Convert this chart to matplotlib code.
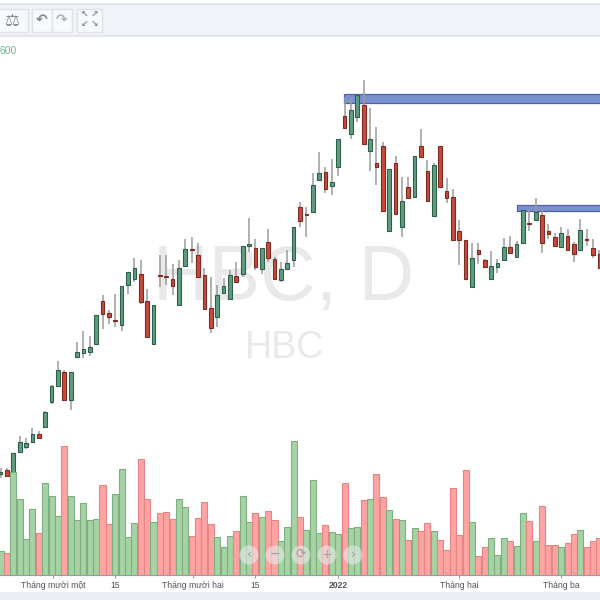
import numpy as np
import matplotlib
matplotlib.use('Agg')
import matplotlib.pyplot as plt
from matplotlib.patches import Rectangle, Circle

plt.rcParams['font.family'] = ['Liberation Sans', 'DejaVu Sans']

# price levels are read as chart rows, so the price axis runs top to bottom
body_top = [472, 470, 453, 442, 443, 434, 434, 412, 386, 370, 372, 372, 352, 349, 347, 315,
            301, 313, 320, 286, 272, 268, 274, 301, 305, 275, 276, 279, 268, 249, 249, 255,
            275, 308, 295, 286, 275, 276, 246, 244, 248, 248, 242, 259, 269, 263, 227, 207,
            214, 185, 173, 172, 182, 139, 116, 110, 95, 105, 139, 163, 146, 169, 163, 201,
            187, 156, 146, 171, 165, 146, 191, 197, 231, 240, 258, 250, 260, 266, 263, 247,
            247, 244, 210, 223, 212, 215, 231, 237, 233, 236, 244, 230, 239, 248, 254]
body_bottom = [474, 476, 473, 452, 447, 442, 438, 427, 402, 386, 400, 400, 357, 353, 352, 344,
               314, 317, 321, 325, 285, 279, 302, 337, 344, 276, 277, 286, 305, 266, 250, 277,
               309, 328, 317, 293, 299, 282, 274, 246, 267, 269, 258, 279, 280, 269, 260, 221,
               215, 212, 180, 189, 186, 167, 128, 134, 117, 144, 151, 167, 211, 231, 214, 227,
               198, 197, 157, 201, 216, 187, 198, 240, 240, 279, 287, 254, 267, 279, 267, 260,
               253, 257, 243, 224, 220, 243, 234, 246, 247, 250, 254, 250, 240, 255, 268]
high = [468, 468, 453, 436, 438, 428, 431, 411, 385, 361, 370, 372, 342, 331, 336, 315,
        295, 310, 294, 286, 272, 258, 260, 289, 305, 255, 255, 264, 260, 239, 237, 243,
        268, 277, 285, 278, 270, 262, 246, 218, 239, 248, 229, 257, 262, 250, 227, 202,
        207, 173, 152, 167, 159, 139, 97, 98, 95, 80, 108, 127, 142, 169, 156, 177,
        177, 156, 129, 160, 163, 146, 178, 189, 220, 240, 243, 243, 259, 251, 259, 238,
        236, 241, 210, 210, 198, 209, 224, 233, 227, 229, 242, 219, 229, 239, 250]
low = [478, 477, 473, 452, 449, 443, 439, 428, 404, 387, 400, 410, 358, 358, 356, 344,
       329, 324, 327, 331, 294, 282, 304, 337, 344, 287, 285, 295, 305, 266, 263, 277,
       309, 333, 327, 293, 299, 283, 277, 252, 270, 274, 262, 279, 282, 270, 267, 227,
       237, 212, 180, 193, 195, 176, 128, 139, 122, 144, 171, 185, 211, 231, 214, 237,
       198, 197, 157, 201, 216, 187, 203, 240, 265, 279, 287, 264, 267, 279, 273, 260,
       253, 257, 243, 231, 220, 253, 239, 246, 247, 250, 262, 250, 246, 258, 268]
volume = [24, 22, 103, 76, 36, 66, 42, 92, 79, 59, 129, 79, 55, 72, 55, 56,
          90, 51, 81, 106, 38, 52, 116, 76, 53, 62, 63, 56, 76, 68, 39, 57,
          73, 51, 38, 28, 39, 44, 79, 53, 62, 58, 64, 55, 34, 48, 134, 58,
          45, 95, 42, 50, 43, 41, 92, 47, 48, 75, 76, 101, 78, 65, 56, 55,
          35, 47, 44, 52, 44, 35, 25, 87, 40, 105, 53, 19, 28, 37, 20, 37,
          34, 29, 62, 54, 34, 69, 30, 30, 28, 32, 41, 45, 28, 34, 37]

# up and down, written out candle by candle
candle_up = [1, 0, 1, 1, 1, 1, 0, 1, 1, 1, 0, 1, 1, 1, 1, 1,
             0, 0, 0, 1, 1, 1, 0, 0, 1, 0, 0, 0, 1, 1, 0, 0,
             0, 0, 1, 1, 1, 0, 1, 1, 0, 1, 0, 0, 1, 1, 1, 0,
             0, 1, 1, 0, 1, 1, 0, 1, 1, 0, 1, 0, 0, 1, 0, 1,
             0, 1, 0, 0, 1, 0, 0, 0, 0, 0, 1, 0, 0, 1, 1, 1,
             0, 1, 1, 0, 1, 0, 0, 0, 1, 0, 0, 1, 0, 0, 0]
volume_up = [1, 0, 1, 1, 1, 1, 0, 1, 1, 1, 0, 1, 1, 1, 1, 1,
             0, 0, 1, 1, 1, 1, 0, 0, 1, 0, 0, 0, 1, 1, 0, 0,
             0, 0, 1, 1, 1, 0, 1, 1, 0, 1, 0, 0, 1, 1, 1, 0,
             1, 1, 1, 0, 1, 1, 0, 1, 1, 0, 1, 0, 0, 1, 0, 1,
             0, 1, 0, 0, 1, 0, 0, 0, 0, 0, 1, 0, 0, 1, 1, 1,
             0, 1, 1, 0, 1, 0, 0, 0, 1, 0, 0, 1, 0, 0, 0]

tick_pos = [8.2, 18, 30.2, 40, 53, 72, 88]
tick_labels = ['Tháng mười một', '15', 'Tháng mười hai', '15', '2022', 'Tháng hai', 'Tháng ba']
bands = [(53.9, 94, 103), (81, 204.5, 210.5)]

BAR_STEP = 6.37
idx = np.arange(len(volume))

fig = plt.figure(figsize=(6, 6), dpi=100)

# page chrome and watermark, in pixels
bg = fig.add_axes([0, 0, 1, 1], zorder=0)
bg.set_xlim(0, 600)
bg.set_ylim(600, 0)
bg.axis('off')
bg.add_patch(Rectangle((-5, 4), 610, 32, facecolor='#f0f3f8', edgecolor='#e0e2e6', linewidth=1.2))
bg.add_patch(Rectangle((0, 592), 600, 8, facecolor='#eceef3', edgecolor='none'))
for x0, x1 in [(-5, 28), (32, 52), (52, 72), (77, 102)]:
    bg.add_patch(Rectangle((x0, 8.5), x1 - x0, 23, facecolor='#f8f9fb', edgecolor='#e0e2e6', linewidth=1))
icon = '#85888e'
bg.text(12, 20.5, '\u2696', color=icon, fontsize=12, ha='center', va='center', family='DejaVu Sans')
bg.text(42, 20, '\u21b6', color=icon, fontsize=10, ha='center', va='center', family='DejaVu Sans', weight='bold')
bg.text(62, 20, '\u21b7', color='#aeb1b6', fontsize=10, ha='center', va='center', family='DejaVu Sans', weight='bold')
for dx, dy, arrow in [(-5, -5, '\u2196'), (5, -5, '\u2197'), (-5, 5, '\u2199'), (5, 5, '\u2198')]:
    bg.text(89.5 + dx, 20 + dy, arrow, color=icon, fontsize=6.5, ha='center', va='center',
            family='DejaVu Sans', weight='bold')
bg.text(0, 51, '600', color='#6fb896', fontsize=7.5, ha='left', va='center')
bg.text(284, 279, 'HBC, D', color='#e9e9ea', fontsize=55.5, ha='center', va='center')
bg.text(284, 348, 'HBC', color='#e9e9ea', fontsize=27, ha='center', va='center')

# chart area, 37 to 575 px down the page
ax = fig.add_axes([0, 25 / 600, 1, 538 / 600], zorder=1)
ax.patch.set_alpha(0)
ax.set_xlim(-0.6 / BAR_STEP, 599.4 / BAR_STEP)
ax.set_ylim(575, 37)
ax.set_xticks(tick_pos, tick_labels, fontsize=6.2, color='#50535e')
ax.get_xticklabels()[4].set_fontweight('bold')
ax.tick_params(axis='x', length=2, width=0.8, color='#9a9da5', pad=2.5)
ax.set_yticks([])
for side in ['top', 'left', 'right']:
    ax.spines[side].set_visible(False)
ax.spines['bottom'].set_color('#9a9da5')

vol_ax = ax.twinx()
vol_ax.patch.set_alpha(0)
vol_ax.set_ylim(0, 538)
vol_ax.set_yticks([])
for side in ['top', 'left', 'right', 'bottom']:
    vol_ax.spines[side].set_visible(False)
vol_face = ['#a5d3a3' if u else '#ffa3a3' for u in volume_up]
vol_edge = ['#7fae80' if u else '#e58585' for u in volume_up]
vol_ax.bar(idx, volume, width=0.95, color=vol_face, edgecolor=vol_edge, linewidth=0.8, zorder=2)

for left, top_y, bottom_y in bands:
    ax.add_patch(Rectangle((left, top_y), 200, bottom_y - top_y, facecolor='#7b90cf', edgecolor='#4a62ae',
                           linewidth=0.9, zorder=2))

ax.vlines(idx, high, low, color='#9b9b9b', linewidth=1.1, zorder=3)
face = ['#5e9e80' if u else '#c9493a' for u in candle_up]
edge = ['#2f5f49' if u else '#7c2c22' for u in candle_up]
heights = np.array(body_bottom) - np.array(body_top)
ax.bar(idx, heights, bottom=body_top, width=0.58, color=face, edgecolor=edge, linewidth=0.8, zorder=4)

# zoom and scroll buttons over the bars
top = fig.add_axes([0, 0, 1, 1], zorder=3)
top.set_xlim(0, 600)
top.set_ylim(600, 0)
top.axis('off')
top.set_aspect('equal')
nav_x = [249, 275, 301, 327, 353]
nav_glyphs = ['\u2039', '\u2212', '\u27f3', '+', '\u203a']
for x, glyph in zip(nav_x, nav_glyphs):
    top.add_patch(Circle((x, 555), 9.5, facecolor='#e8eaec', edgecolor='none', alpha=0.6))
    top.text(x, 554.5, glyph, color='#9aa09c', fontsize=9, ha='center', va='center', family='DejaVu Sans')

fig.savefig('out.png', dpi=100)
